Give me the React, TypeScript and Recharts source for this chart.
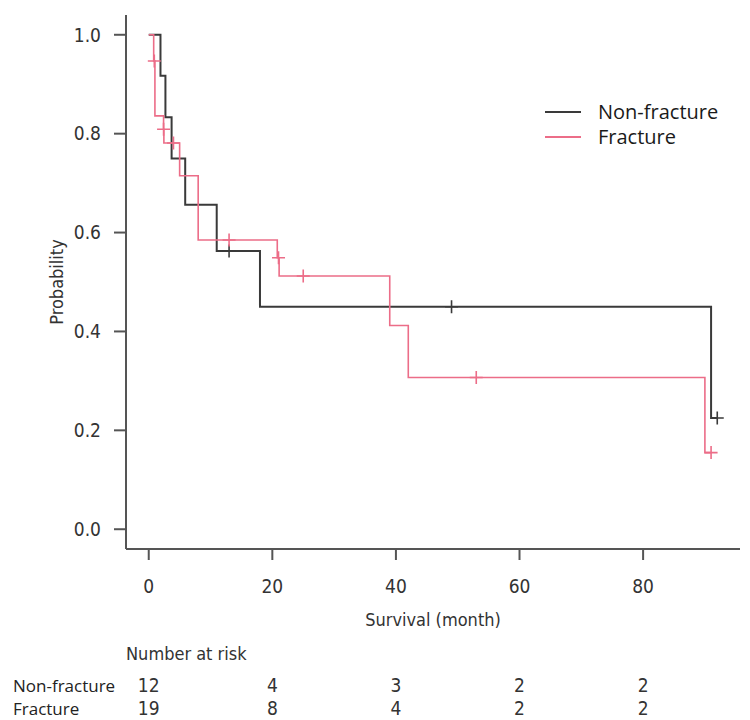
import React from "react";
import { ComposedChart, Line, Scatter, XAxis, YAxis, Legend } from "recharts";

// Kaplan-Meier steps (time in months, survival probability)
const nonFractureTime = [0, 1.9, 2.7, 3.7, 5.9, 11, 18, 91, 92];
const nonFractureSurv = [1, 0.917, 0.833, 0.75, 0.656, 0.5625, 0.45, 0.225, 0.225];
const nonFractureCensorTime = [13, 49, 92];
const nonFractureCensorSurv = [0.5625, 0.45, 0.225];

const fractureTime = [0, 0.8, 1.0, 2.4, 2.45, 5.0, 8.0, 20.8, 21.1, 39, 42, 90, 91];
const fractureSurv = [1, 0.947, 0.836, 0.809, 0.781, 0.715, 0.585, 0.549, 0.512, 0.412, 0.307, 0.155, 0.155];
const fractureCensorTime = [0.9, 2.4, 4.0, 13, 21, 25, 53, 91];
const fractureCensorSurv = [0.947, 0.809, 0.781, 0.585, 0.549, 0.512, 0.307, 0.155];

const riskTimes = [0, 20, 40, 60, 80];
const nonFractureRisk = [12, 4, 3, 2, 2];
const fractureRisk = [19, 8, 4, 2, 2];
const probTicks = [0, 0.2, 0.4, 0.6, 0.8, 1.0];
const groupNames = ["Non-fracture", "Fracture"];

const X_DOMAIN: [number, number] = [-3.68, 95.68];
const Y_DOMAIN: [number, number] = [-0.04, 1.04];

const BLACK = "#3a3a3a";
const PINK = "#ec6d88";
const AXIS = "#555";
const NARROW = '"Liberation Sans Narrow", "Arial Narrow", "DejaVu Sans Condensed", sans-serif';
const SANS = '"Open Sans", "Noto Sans", sans-serif';
const groupColors = [BLACK, PINK];

const toPoints = (t: number[], p: number[]) => t.map((x, i) => ({ t: x, p: p[i] }));

const nonFracture = toPoints(nonFractureTime, nonFractureSurv);
const fracture = toPoints(fractureTime, fractureSurv);
const nonFractureCensor = toPoints(nonFractureCensorTime, nonFractureCensorSurv);
const fractureCensor = toPoints(fractureCensorTime, fractureCensorSurv);
// invisible anchor rows so the risk-table axes get a scale
const riskAnchor = riskTimes.map((t) => ({ t, p: 0.5 }));

const CensorMark = (props: any) => {
  const { cx, cy, fill } = props;
  if (cx == null || cy == null) return null;
  return (
    <path
      d={`M${cx - 6.5},${cy}h13M${cx},${cy - 6.5}v13`}
      stroke={fill}
      strokeWidth={1.6}
      fill="none"
    />
  );
};

const renderLegend = () => (
  <div style={{ fontFamily: SANS, fontSize: 20, color: "#1a1a1a" }}>
    {groupNames.map((name, i) => (
      <div key={name} style={{ display: "flex", alignItems: "center", height: 25 }}>
        <span
          style={{
            display: "inline-block",
            width: 36,
            height: 0,
            borderTop: `2px solid ${groupColors[i]}`,
          }}
        />
        <span style={{ marginLeft: 17 }}>{name}</span>
      </div>
    ))}
  </div>
);

const tickText = { fill: "#333", fontSize: 19, fontFamily: NARROW };
const riskFmt = (arr: number[]) => (v: number) => String(arr[riskTimes.indexOf(v)] ?? "");

const riskAxis = (id: string, label: string, counts: number[]) => (
  <XAxis
    key={id}
    xAxisId={id}
    type="number"
    dataKey="t"
    domain={X_DOMAIN}
    allowDataOverflow
    ticks={riskTimes}
    interval={0}
    axisLine={false}
    tickLine={false}
    tickSize={0}
    tickMargin={5}
    height={23}
    tick={tickText}
    tickFormatter={riskFmt(counts)}
    label={{
      value: label,
      position: "insideLeft",
      offset: -113,
      fill: "#222",
      fontSize: 17,
      fontFamily: SANS,
    }}
  />
);

export default function App() {
  return (
    <div
      style={{
        position: "absolute",
        left: 0,
        top: 0,
        width: 750,
        height: 720,
        background: "#fff",
      }}
    >
      <ComposedChart width={750} height={720} margin={{ top: 15, right: 10, bottom: 0, left: 0 }}>
        <XAxis
          type="number"
          dataKey="t"
          domain={X_DOMAIN}
          allowDataOverflow
          ticks={riskTimes}
          interval={0}
          height={85}
          tickSize={11}
          tickMargin={20}
          axisLine={{ stroke: AXIS, strokeWidth: 2 }}
          tickLine={{ stroke: AXIS, strokeWidth: 2 }}
          tick={tickText}
          label={{
            value: "Survival (month)",
            position: "insideBottom",
            offset: 8,
            fill: "#333",
            fontSize: 18,
            fontFamily: NARROW,
          }}
        />
        <XAxis
          xAxisId="r1"
          type="number"
          dataKey="t"
          domain={X_DOMAIN}
          allowDataOverflow
          ticks={riskTimes}
          tick={false}
          axisLine={false}
          tickLine={false}
          height={40}
          label={{
            value: "Number at risk",
            position: "insideLeft",
            offset: 0,
            fill: "#333",
            fontSize: 18,
            fontFamily: NARROW,
          }}
        />
        {riskAxis("r2", groupNames[0], nonFractureRisk)}
        {riskAxis("r3", groupNames[1], fractureRisk)}
        <YAxis
          type="number"
          domain={Y_DOMAIN}
          allowDataOverflow
          ticks={probTicks}
          interval={0}
          width={126}
          tickSize={12}
          tickMargin={13}
          axisLine={{ stroke: AXIS, strokeWidth: 2 }}
          tickLine={{ stroke: AXIS, strokeWidth: 2 }}
          tick={tickText}
          tickFormatter={(v: number) => v.toFixed(1)}
          label={{
            value: "Probability",
            angle: -90,
            position: "insideLeft",
            offset: 57,
            fill: "#333",
            fontSize: 18,
            fontFamily: NARROW,
            style: { textAnchor: "middle" },
          }}
        />
        <Legend
          layout="horizontal"
          verticalAlign="middle"
          align="center"
          content={renderLegend}
          wrapperStyle={{ left: 545, top: 99, width: 200, height: 50 }}
        />
        {["r1", "r2", "r3"].map((id) => (
          <Line
            key={id}
            xAxisId={id}
            data={riskAnchor}
            dataKey="p"
            stroke="none"
            dot={false}
            activeDot={false}
            legendType="none"
            isAnimationActive={false}
          />
        ))}
        <Line
          data={nonFracture}
          dataKey="p"
          name={groupNames[0]}
          type="stepAfter"
          stroke={BLACK}
          strokeWidth={2}
          dot={false}
          activeDot={false}
          isAnimationActive={false}
        />
        <Line
          data={fracture}
          dataKey="p"
          name={groupNames[1]}
          type="stepAfter"
          stroke={PINK}
          strokeWidth={1.6}
          dot={false}
          activeDot={false}
          isAnimationActive={false}
        />
        <Scatter
          data={nonFractureCensor}
          dataKey="p"
          fill={BLACK}
          shape={CensorMark}
          legendType="none"
          isAnimationActive={false}
        />
        <Scatter
          data={fractureCensor}
          dataKey="p"
          fill={PINK}
          shape={CensorMark}
          legendType="none"
          isAnimationActive={false}
        />
      </ComposedChart>
    </div>
  );
}
